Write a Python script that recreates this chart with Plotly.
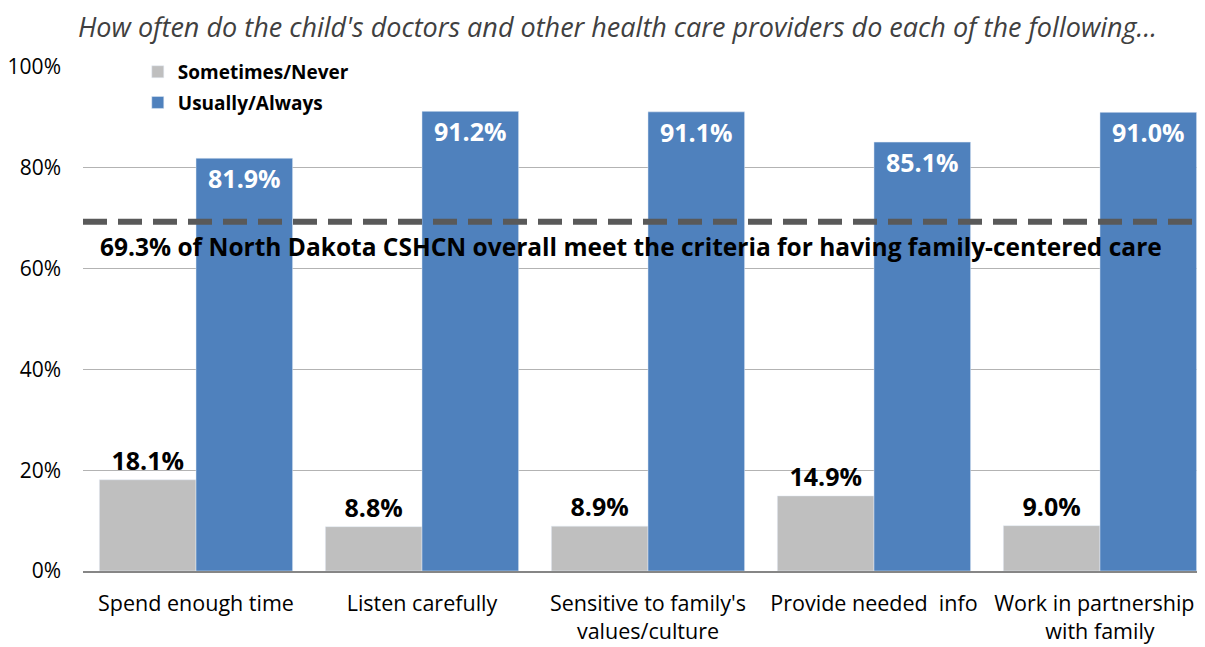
import plotly.graph_objects as go

categories = ["Spend enough time", "Listen carefully", "Sensitive to family's values/culture",
              "Provide needed info", "Work in partnership with family"]
x_tick_labels = ["Spend enough time", "Listen carefully", "Sensitive to family's<br>values/culture",
                 "Provide needed  info", "Work in partnership&nbsp;&nbsp;<br>with family"]
sometimes_never = [18.1, 8.8, 8.9, 14.9, 9.0]
usually_always = [81.9, 91.2, 91.1, 85.1, 91.0]
overall = 69.3
y_ticks = [0, 20, 40, 60, 80, 100]
y_tick_labels = ["0%", "20%", "40%", "60%", "80%", "100%"]

FONT = "Open Sans"
GRAY = "#bfbfbf"
BLUE = "#4f81bd"

fig = go.Figure()
fig.add_trace(go.Bar(
    x=categories, y=sometimes_never, name="Sometimes/Never",
    marker_color=GRAY, legendgroup="a",
    text=["{:.1f}%".format(v) for v in sometimes_never],
    textposition="outside",
    textfont=dict(family=FONT, size=25, color="black", weight="bold"),
    cliponaxis=False,
))
fig.add_trace(go.Bar(
    x=categories, y=usually_always, name="Usually/Always",
    marker_color=BLUE, legendgroup="b",
    text=["{:.1f}%".format(v) for v in usually_always],
    textposition="inside", insidetextanchor="end",
    textfont=dict(family=FONT, size=25, color="white", weight="bold"),
    cliponaxis=False,
))

# overall reference line
fig.add_shape(type="line", xref="paper", yref="y", x0=0, x1=1, y0=overall, y1=overall,
              line=dict(color="#595959", width=6, dash="24px,11px"))
fig.add_annotation(
    xref="paper", yref="y", x=0.49, y=overall, yanchor="top", yshift=-6,
    text="{:.1f}% of North Dakota CSHCN overall meet the criteria for having family-centered care".format(overall),
    showarrow=False, font=dict(family=FONT, size=24.5, color="black", weight="bold"),
)
fig.add_annotation(
    xref="paper", yref="paper", x=0.478, y=1.081, yanchor="middle",
    text="<i>How often do the child's doctors and other health care providers do each of the following...</i>",
    showarrow=False, font=dict(family=FONT, size=27, color="#404040"),
)

# page body has an 8px margin, so the figure is shifted by 8px
fig.update_layout(
    width=1197, height=639,
    margin=dict(l=74, r=0, t=59, b=76),
    plot_bgcolor="white", paper_bgcolor="white",
    barmode="group", bargap=0.145, bargroupgap=0,
    showlegend=True,
    legend=dict(x=0.049, y=1.028, xanchor="left", yanchor="top", bgcolor="white",
                font=dict(family=FONT, size=19, color="black", weight="bold"),
                itemwidth=30, tracegroupgap=3),
    uniformtext=dict(mode=False),
)
fig.update_yaxes(
    range=[0, 100], tickvals=y_ticks, ticktext=y_tick_labels,
    showgrid=True, gridcolor="#b3b3b3", gridwidth=1,
    zeroline=False, showline=False,
    tickfont=dict(family=FONT, size=21, color="black"), ticklabelstandoff=21,
)
# the chart is cut at the right edge: last category partly beyond the view
fig.update_xaxes(
    range=[-0.5, 4.447],
    tickvals=categories, ticktext=x_tick_labels,
    showline=True, linecolor="#868686", linewidth=2,
    tickfont=dict(family=FONT, size=21.5, color="black"), ticklabelstandoff=12,
)

fig.write_html("out.html")
